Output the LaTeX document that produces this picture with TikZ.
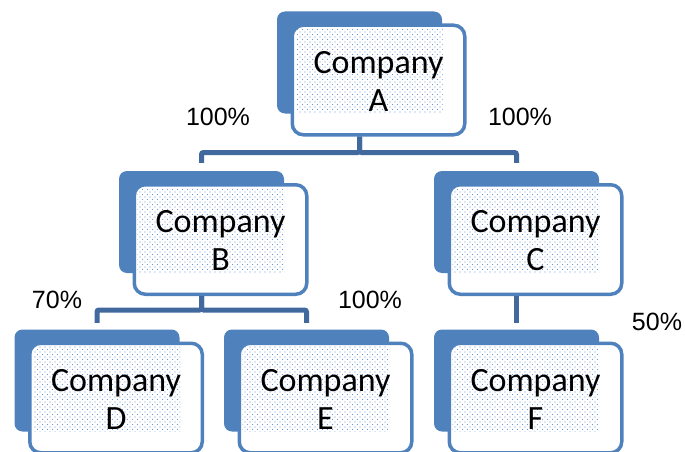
\documentclass[tikz,border=0pt]{standalone}
\usepackage{fontspec}
\setmainfont{Carlito}
\newfontfamily\pctfont{Liberation Sans}
\usepackage{tikz}
\usetikzlibrary{patterns}
\definecolor{sblue}{HTML}{4F81BD}
\definecolor{lineblue}{HTML}{41699E}
\definecolor{dotblue}{HTML}{7199D0}
\pgfdeclarepatternformonly{sparse dots}{\pgfqpoint{-1pt}{-1pt}}{\pgfqpoint{4pt}{4pt}}{\pgfqpoint{5pt}{5pt}}{
    \pgfpathcircle{\pgfqpoint{0pt}{0pt}}{.7pt}
    \pgfpathcircle{\pgfqpoint{2.5pt}{2.5pt}}{.7pt}
    \pgfusepath{fill}
}
\tikzset{
    shadow_node/.style = {rectangle, rounded corners=8pt, fill=sblue, minimum width=165pt, minimum height=102pt, inner sep=0pt},
    box_node/.style = {rectangle, rounded corners=11pt, draw=sblue, line width=3.5pt, fill=white, minimum width=172.5pt, minimum height=109.5pt, inner sep=0pt},
    text_node/.style = {align=center, inner sep=0pt, font=\fontsize{34}{38}\selectfont},
    pct_node/.style = {inner sep=0pt, font=\pctfont\fontsize{25}{30}\selectfont},
    conn_line/.style = {draw=lineblue, line width=5pt, rounded corners=2pt}
}

\begin{document}
\begin{tikzpicture}[x=1pt, y=-1pt]
    \useasboundingbox (0,0) rectangle (685,452);

    % boxes
    \foreach \id/\x/\y in {A/359.5/62.5, B/201.5/222, C/516.5/222, D/97/380.5, E/306.5/380.5, F/516.5/380.5}{
        \node [shadow_node] (\id) at (\x,\y) {};
        \node [box_node] (box\id) at ([shift={(19,17.5)}]\id.center) {};
        \fill [pattern=sparse dots, pattern color=dotblue]
            ([shift={(-83,-51.5)}]box\id.center) rectangle ([shift={(64,33.5)}]box\id.center);
        \node [text_node] (text\id) at ([yshift=-1pt]box\id.center) {Company\\\id};
    }

    % connectors
    \draw [conn_line, shorten >=8pt] (A |- boxA.south) -- ++(0,16) -| (B.north);
    \draw [conn_line, shorten >=8pt] (A |- boxA.south) -- ++(0,16) -| (C.north);
    \draw [conn_line, shorten >=6.5pt] (B |- boxB.south) -- ++(0,14) -| (D.north);
    \draw [conn_line, shorten >=6.5pt] (B |- boxB.south) -- ++(0,14) -| (E.north);
    \draw [conn_line, shorten >=6.5pt] (C |- boxC.south) -- (F.north);

    % shares
    \node [pct_node] (pAB) at (218,117) {100\%};
    \node [pct_node] (pAC) at (520,117) {100\%};
    \node [pct_node] (pBD) at (57,300) {70\%};
    \node [pct_node] (pBE) at (370,300) {100\%};
    \node [pct_node] (pCF) at (657,322) {50\%};
\end{tikzpicture}
\end{document}
